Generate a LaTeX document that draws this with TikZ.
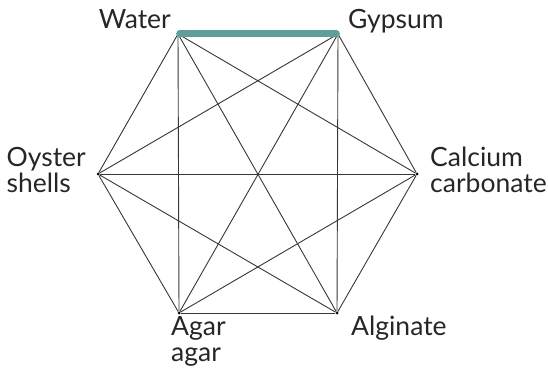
\documentclass[tikz,border=0pt]{standalone}
\usepackage{fontspec}
\setmainfont{Lato}
\usetikzlibrary{positioning}

\definecolor{tealbar}{RGB}{96,158,155}
\definecolor{edgegray}{RGB}{55,55,55}

\begin{document}
\begin{tikzpicture}[x=1pt,y=-1pt,
    vtx/.style={circle,fill=black,inner sep=0pt,minimum size=3pt},
    lbl/.style={font=\fontsize{26.5}{26}\selectfont,text=black!85,inner sep=0pt},
    edge/.style={edgegray,line width=0.9pt}]
\useasboundingbox (0,0) rectangle (548,371);
% vertices of the hexagon
\node[vtx] (water) at (178,34) {};
\node[vtx] (gypsum) at (338,34) {};
\node[vtx] (calcium) at (417,174) {};
\node[vtx] (alginate) at (337,313) {};
\node[vtx] (agar) at (179,313) {};
\node[vtx] (oyster) at (98,174) {};

% labels (base = last line)
\node[lbl,anchor=base east] (waterlbl) at (171,29) {Water};
\node[lbl,anchor=base west] (gypsumlbl) at (348,29) {Gypsum};
\node[lbl,anchor=base east,align=left] (oysterlbl) at (86,193) {Oyster\\shells};
\node[lbl,anchor=base west,align=left] (calciumlbl) at (430,193) {Calcium\\carbonate};
\node[lbl,anchor=base west] (alginatelbl) at (351,335) {Alginate};
\node[lbl,anchor=base west,align=left] (agarlbl) at (171,361) {Agar\\agar};

% all pairs
\foreach \a/\b in {water/calcium,water/alginate,water/agar,water/oyster,
    gypsum/calcium,gypsum/alginate,gypsum/agar,gypsum/oyster,
    calcium/alginate,calcium/agar,calcium/oyster,
    alginate/agar,alginate/oyster,agar/oyster}
  \draw[edge] (\a) -- (\b);

\draw[tealbar,line width=7pt,line cap=round] (water) -- (gypsum);
\end{tikzpicture}
\end{document}
